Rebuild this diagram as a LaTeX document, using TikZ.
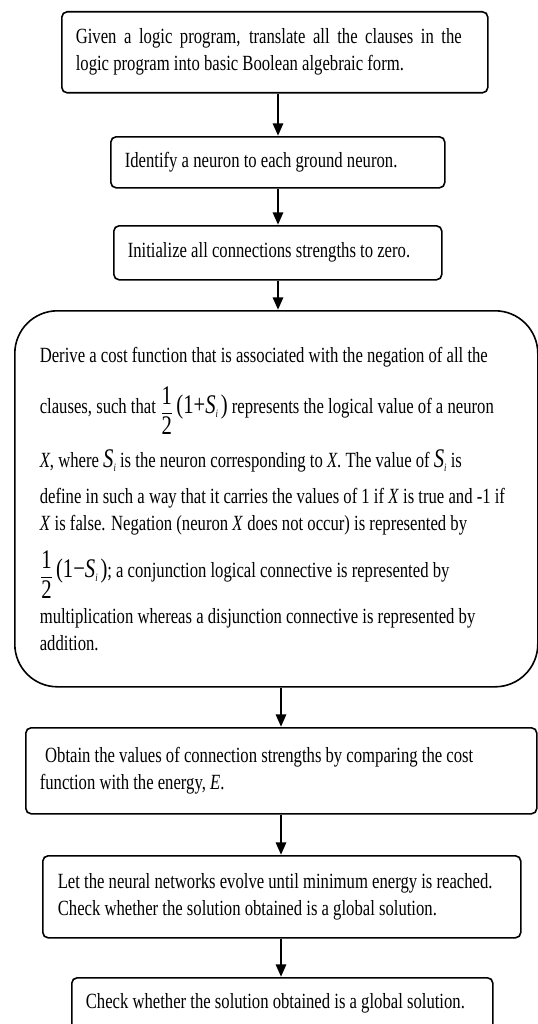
\documentclass[tikz,border=0pt]{standalone}
\usepackage{amsmath}
\usepackage{graphicx}
\usepackage{fontspec}
\setmainfont{Liberation Serif}
\usetikzlibrary{arrows.meta}
\hyphenpenalty=10000
\newcommand{\bigsz}{\fontsize{15.5}{15.5}\selectfont}
\newcommand{\half}{\smash{\raisebox{-3pt}{$\genfrac{}{}{0.5pt}{0}{\mbox{\bigsz 1}}{\mbox{\bigsz 2}}$}}}
\newcommand{\Sv}{{\bigsz\textit{S}}\raisebox{-2.5pt}{\fontsize{6.5}{6.5}\selectfont\textit{i}}}
\newcommand{\tbox}[2]{\scalebox{1}[1.3]{\parbox{#1}{\fontsize{12.5}{15.58}\selectfont\raggedright #2}}}
\begin{document}
\begin{tikzpicture}[x=0.75pt,y=-0.75pt,
  stepbox/.style={draw, line width=1.2pt, rounded corners=4pt, anchor=north west,
    inner xsep=10.5pt, inner ysep=0pt},
  arr/.style={line width=2.2pt, -{Triangle[length=9.5pt,width=7.5pt]}}]
\useasboundingbox (0,0) rectangle (537,1024);
\coordinate (ax) at (278,0);
\coordinate (bx) at (281,0);
\node[stepbox, minimum width=319.5pt, minimum height=60.75pt] (b1) at (61,11)
  {\raisebox{-1.5pt}{\tbox{298.5pt}{\parbox{289.5pt}{Given a logic program, translate all the clauses in the\linebreak logic program into basic Boolean algebraic form.}}}};
\node[stepbox, minimum width=250.5pt, minimum height=38.25pt] (b2) at (110,136)
  {\tbox{229.5pt}{Identify a neuron to each ground neuron.}};
\node[stepbox, minimum width=246pt, minimum height=40.5pt] (b3) at (113,225)
  {\tbox{225pt}{Initialize all connections strengths to zero.}};
\node[stepbox, rounded corners=32pt, minimum width=392.25pt, minimum height=282pt, inner xsep=18.75pt] (b4) at (14,310)
  {\raisebox{2.25pt}{\tbox{354.75pt}{\mbox{Derive a cost function that is associated with the negation of all the}\\[13.85pt]
   \mbox{clauses, such that \half\,{\bigsz(1+}\Sv\,{\bigsz)} represents the logical value of a neuron}\\[15.58pt]
   \mbox{\textit{X}, where \Sv\ is the neuron corresponding to \textit{X}. The value of \Sv\ is}\\[5.19pt]
   \mbox{define in such a way that it carries the values of 1 if \textit{X} is true and -1 if}\\
   \mbox{\textit{X} is false. Negation (neuron \textit{X} does not occur) is represented by}\\[11.54pt]
   \mbox{\half\,{\bigsz(1−}\Sv\,{\bigsz)}; a conjunction logical connective is represented by}\\[10.96pt]
   \mbox{multiplication whereas a disjunction connective is represented by}\\
   \mbox{addition.}}}};
\node[stepbox, minimum width=383.25pt, minimum height=64.5pt] (b5) at (25,727)
  {\tbox{362.25pt}{\mbox{\hspace*{4pt}Obtain the values of connection strengths by comparing the cost}\\
   \mbox{function with the energy, \textit{E}.}}};
\node[stepbox, minimum width=358.5pt, minimum height=61.5pt, inner xsep=11.25pt] (b6) at (42,855)
  {\tbox{336pt}{\mbox{Let the neural networks evolve until minimum energy is reached.}\\
   \mbox{Check whether the solution obtained is a global solution.}}};
\node[stepbox, minimum width=315.75pt, minimum height=39pt] (b7) at (71,977)
  {\tbox{294.75pt}{Check whether the solution obtained is a global solution.}};
\draw[arr] (b1.south -| ax) -- (b2.north -| ax);
\draw[arr] (b2.south -| ax) -- (b3.north -| ax);
\draw[arr] (b3.south -| ax) -- (b4.north -| ax);
\draw[arr] (b4.south -| bx) -- (b5.north -| bx);
\draw[arr] (b5.south -| bx) -- (b6.north -| bx);
\draw[arr] (b6.south -| bx) -- (b7.north -| bx);
\end{tikzpicture}
\end{document}
